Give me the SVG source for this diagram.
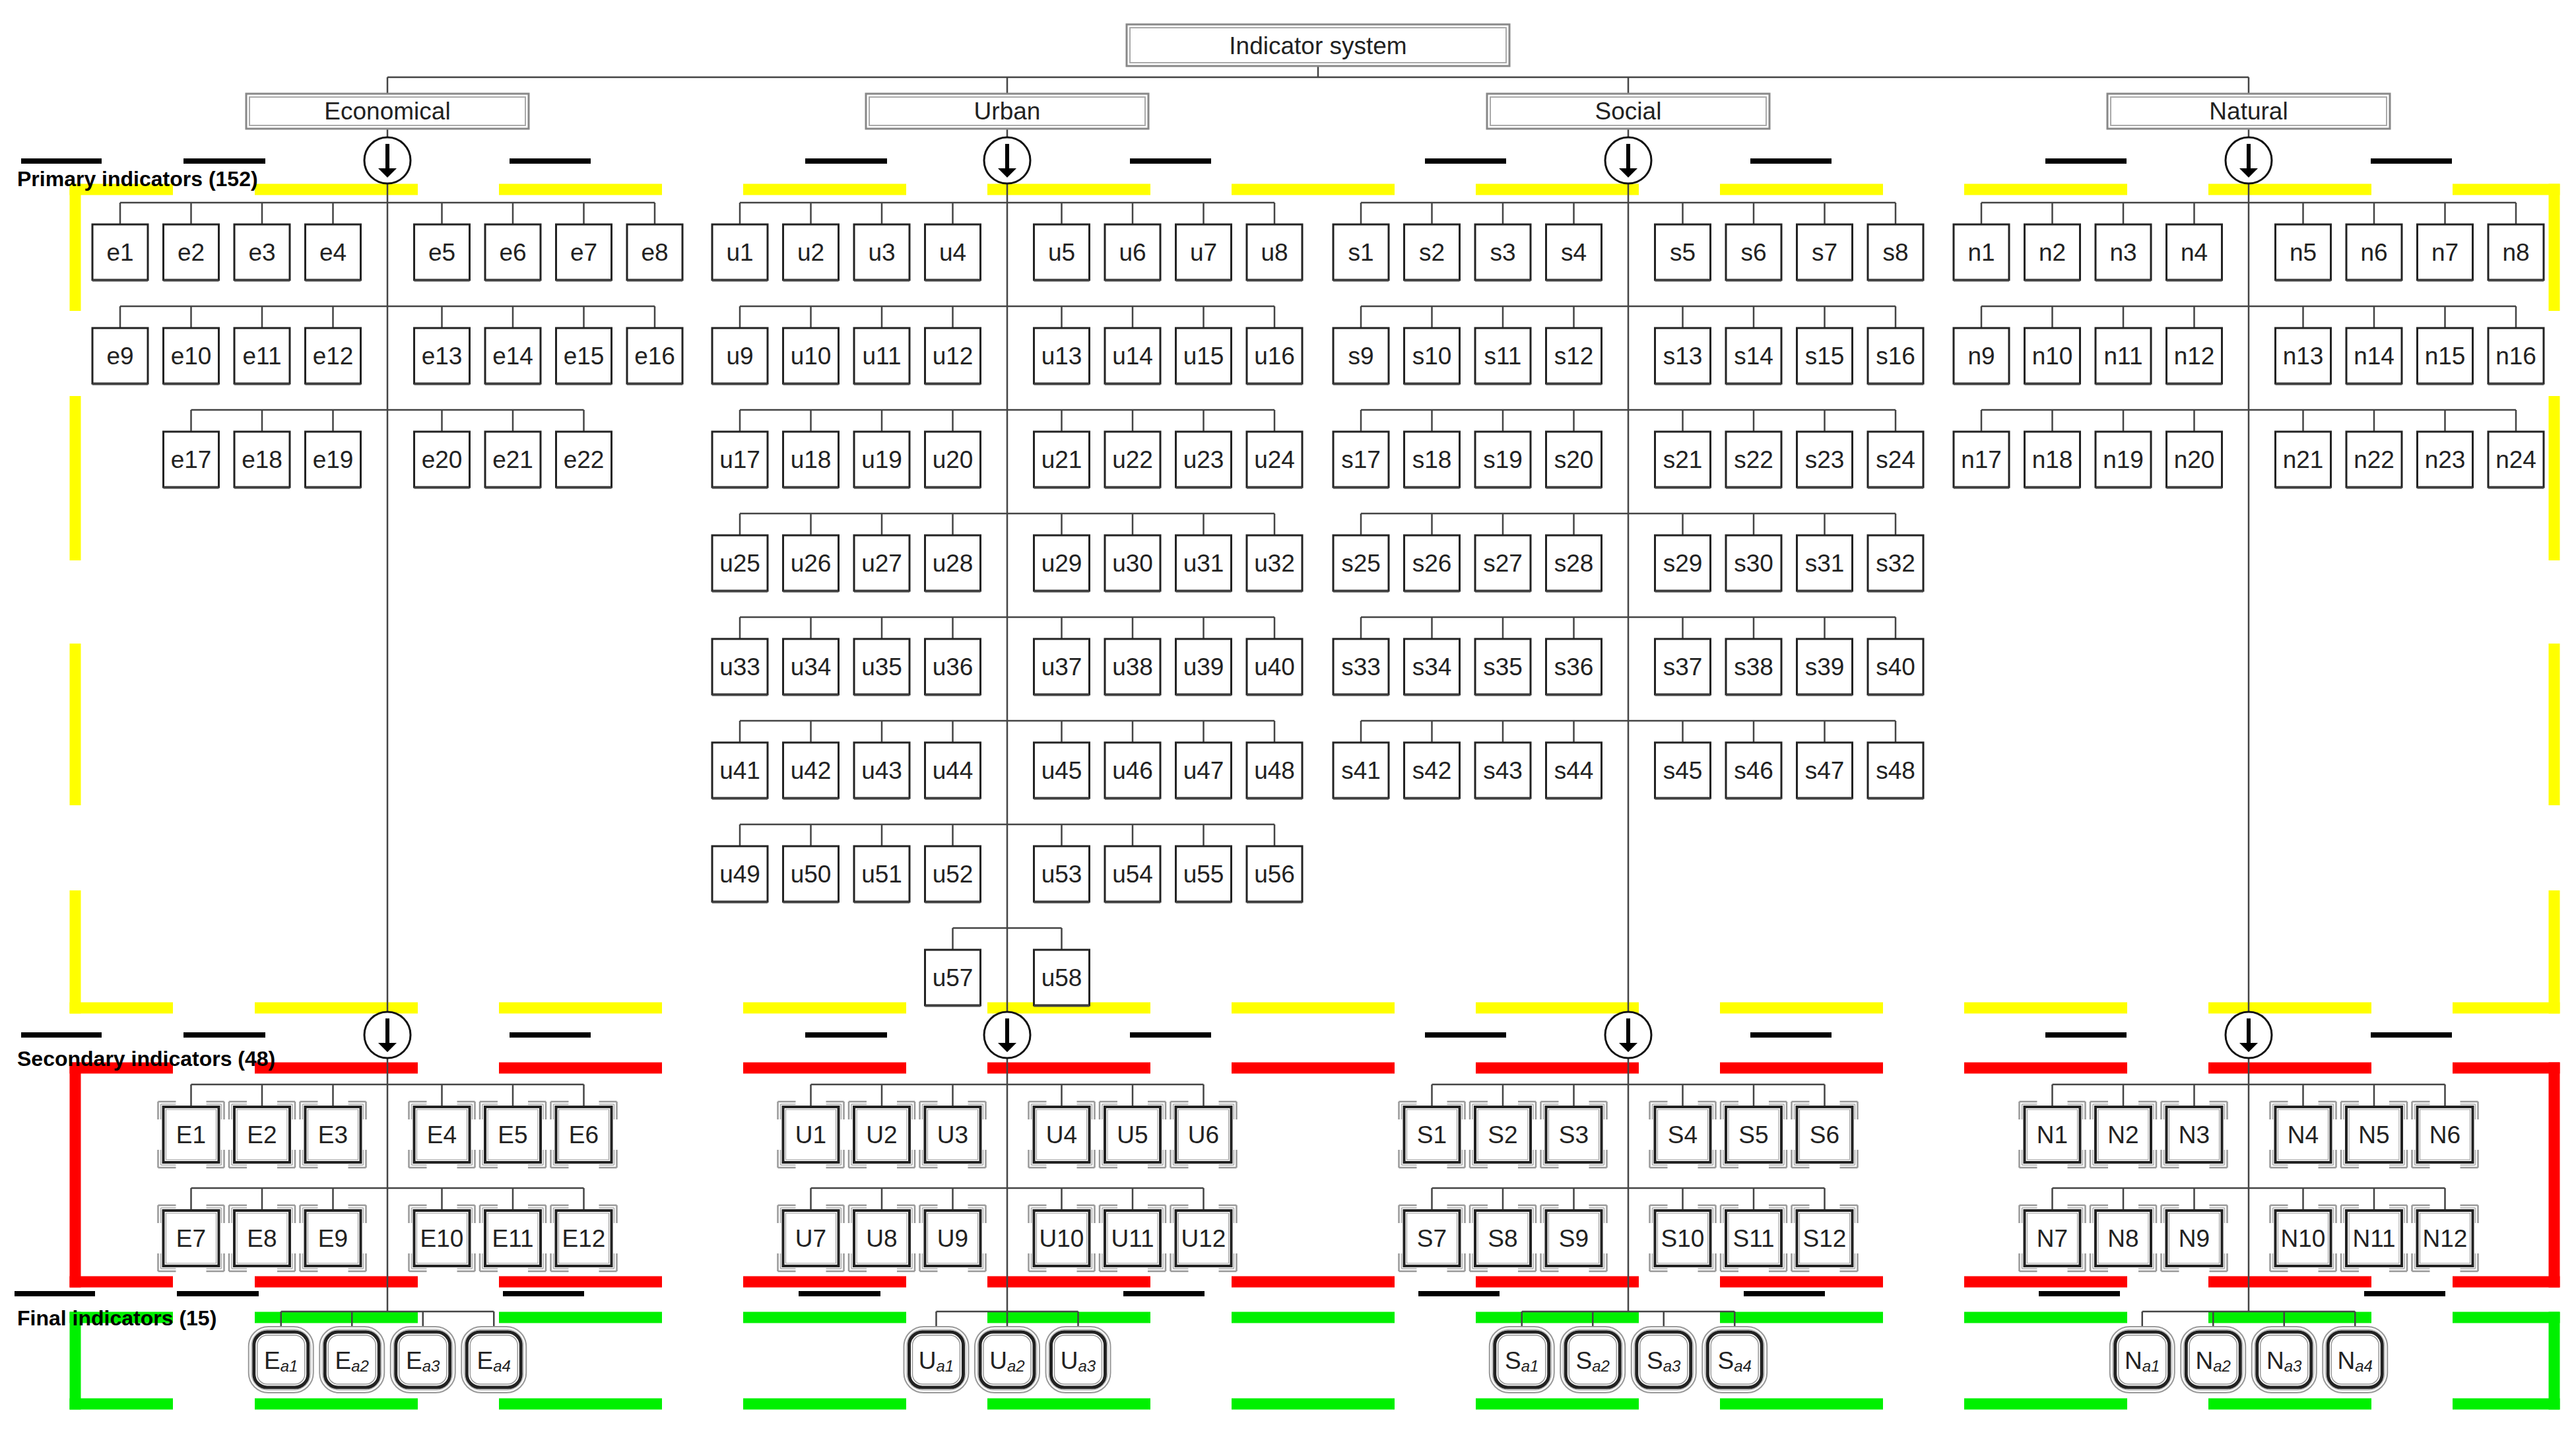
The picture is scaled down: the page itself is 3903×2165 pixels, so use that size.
<svg xmlns="http://www.w3.org/2000/svg" xmlns:xlink="http://www.w3.org/1999/xlink" width="3903" height="2165" viewBox="0 0 3903 2165">
<style>
text{font-family:"Liberation Sans",Arial,sans-serif;fill:#222}
.t{font-size:37px;text-anchor:middle}
.h{font-size:37px;text-anchor:middle}
.lab{font-size:32px;font-weight:bold;fill:#000}
.sub{font-size:24px;font-style:italic}
.con{fill:none;stroke:#444;stroke-width:2.5}
.y{fill:none;stroke:#ffff00;stroke-width:17}
.r{fill:none;stroke:#ff0000;stroke-width:17}
.g{fill:none;stroke:#00f000;stroke-width:17}
.bd{fill:none;stroke:#000;stroke-width:8}
</style>
<defs>
<g id="pb"><rect x="0" y="0" width="84" height="84" fill="#fff" stroke="#222" stroke-width="3"/><path d="M0 85H84" stroke="#444" stroke-width="3"/></g>
<g id="sb"><rect x="-8" y="-8" width="100" height="100" fill="none" stroke="#999" stroke-width="2.5" stroke-dasharray="27 46 27 0"/><rect x="-4" y="-4" width="92" height="92" fill="none" stroke="#aaa" stroke-width="1.5" stroke-dasharray="23 46 23 0"/><rect x="0" y="0" width="84" height="84" fill="#fff" stroke="#222" stroke-width="4"/><rect x="4" y="4" width="76" height="76" fill="none" stroke="#999" stroke-width="1"/></g>
<g id="fb"><rect x="0" y="0" width="98" height="100" rx="30" fill="#fff" stroke="#999" stroke-width="2"/><rect x="4" y="4" width="90" height="92" rx="26" fill="none" stroke="#bbb" stroke-width="1.5"/><rect x="8" y="8" width="82" height="84" rx="20" fill="none" stroke="#222" stroke-width="5"/><rect x="13" y="13" width="72" height="74" rx="15" fill="none" stroke="#999" stroke-width="1.5"/></g>
<g id="arc"><circle cx="0" cy="0" r="35" fill="#fff" stroke="#111" stroke-width="3"/><path d="M0 -25V14" stroke="#000" stroke-width="6"/><path d="M-14 12H14L0 26Z" fill="#000"/></g>
</defs>
<rect width="3903" height="2165" fill="#fff"/>
<g id="frames">
<path class="y" d="M105.5 287H262M386 287H633M756 287H1003M1126 287H1373M1496 287H1743M1866 287H2113M2236 287H2483M2606 287H2853M2976 287H3223M3346 287H3593M3716 287H3878.5"/>
<path class="y" d="M105.5 1527H262M386 1527H633M756 1527H1003M1126 1527H1373M1496 1527H1743M1866 1527H2113M2236 1527H2483M2606 1527H2853M2976 1527H3223M3346 1527H3593M3716 1527H3878.5"/>
<path class="y" d="M114 278.5V471M114 600V849M114 975V1220M114 1349V1535.5M3870 278.5V471M3870 600V849M3870 975V1220M3870 1349V1535.5"/>
<path class="r" d="M105.5 1618H262M386 1618H633M756 1618H1003M1126 1618H1373M1496 1618H1743M1866 1618H2113M2236 1618H2483M2606 1618H2853M2976 1618H3223M3346 1618H3593M3716 1618H3878.5"/>
<path class="r" d="M105.5 1942H262M386 1942H633M756 1942H1003M1126 1942H1373M1496 1942H1743M1866 1942H2113M2236 1942H2483M2606 1942H2853M2976 1942H3223M3346 1942H3593M3716 1942H3878.5"/>
<path class="r" d="M114 1609.5V1950.5M3870 1609.5V1950.5"/>
<path class="g" d="M105.5 1996H262M386 1996H633M756 1996H1003M1126 1996H1373M1496 1996H1743M1866 1996H2113M2236 1996H2483M2606 1996H2853M2976 1996H3223M3346 1996H3593M3716 1996H3878.5"/>
<path class="g" d="M105.5 2127H262M386 2127H633M756 2127H1003M1126 2127H1373M1496 2127H1743M1866 2127H2113M2236 2127H2483M2606 2127H2853M2976 2127H3223M3346 2127H3593M3716 2127H3878.5"/>
<path class="g" d="M114 1987.5V2135.5M3870 1987.5V2135.5"/>
<path class="bd" d="M32 244H154M278 244H402M772 244H895M1220 244H1344M1712 244H1835M2159 244H2282M2652 244H2775M3099 244H3222M3592 244H3715"/>
<path class="bd" d="M32 1568H154M278 1568H402M772 1568H895M1220 1568H1344M1712 1568H1835M2159 1568H2282M2652 1568H2775M3099 1568H3222M3592 1568H3715"/>
<path class="bd" d="M22 1960H144M268 1960H392M762 1960H885M1210 1960H1334M1702 1960H1825M2149 1960H2272M2642 1960H2765M3089 1960H3212M3582 1960H3705"/>
</g>
<g id="labels">
<text class="lab" x="26" y="282">Primary indicators (152)</text>
<text class="lab" x="26" y="1615">Secondary indicators (48)</text>
<text class="lab" x="26" y="2008">Final indicators (15)</text>
</g>
<g id="connectors">
<path class="con" d="M1997 100V117M587 117H3407M587 117V142M1526 117V142M2467 117V142M3407 117V142"/>
<path class="con" d="M587 196V208M587 278V1533M587 1603V1987M1526 196V208M1526 278V1533M1526 1603V2010M2467 196V208M2467 278V1533M2467 1603V1987M3407 196V208M3407 278V1533M3407 1603V1987"/>
<path class="con" d="M182 307H992M182 307v33M289.5 307v33M397 307v33M504.5 307v33M669.5 307v33M777 307v33M884.5 307v33M992 307v33M182 464H992M182 464v33M289.5 464v33M397 464v33M504.5 464v33M669.5 464v33M777 464v33M884.5 464v33M992 464v33M289.5 621H884.5M289.5 621v33M397 621v33M504.5 621v33M669.5 621v33M777 621v33M884.5 621v33"/>
<path class="con" d="M1121 307H1931M1121 307v33M1228.5 307v33M1336 307v33M1443.5 307v33M1608.5 307v33M1716 307v33M1823.5 307v33M1931 307v33M1121 464H1931M1121 464v33M1228.5 464v33M1336 464v33M1443.5 464v33M1608.5 464v33M1716 464v33M1823.5 464v33M1931 464v33M1121 621H1931M1121 621v33M1228.5 621v33M1336 621v33M1443.5 621v33M1608.5 621v33M1716 621v33M1823.5 621v33M1931 621v33M1121 778H1931M1121 778v33M1228.5 778v33M1336 778v33M1443.5 778v33M1608.5 778v33M1716 778v33M1823.5 778v33M1931 778v33M1121 935H1931M1121 935v33M1228.5 935v33M1336 935v33M1443.5 935v33M1608.5 935v33M1716 935v33M1823.5 935v33M1931 935v33M1121 1092H1931M1121 1092v33M1228.5 1092v33M1336 1092v33M1443.5 1092v33M1608.5 1092v33M1716 1092v33M1823.5 1092v33M1931 1092v33M1121 1249H1931M1121 1249v33M1228.5 1249v33M1336 1249v33M1443.5 1249v33M1608.5 1249v33M1716 1249v33M1823.5 1249v33M1931 1249v33M1443.5 1406H1608.5M1443.5 1406v33M1608.5 1406v33"/>
<path class="con" d="M2062 307H2872M2062 307v33M2169.5 307v33M2277 307v33M2384.5 307v33M2549.5 307v33M2657 307v33M2764.5 307v33M2872 307v33M2062 464H2872M2062 464v33M2169.5 464v33M2277 464v33M2384.5 464v33M2549.5 464v33M2657 464v33M2764.5 464v33M2872 464v33M2062 621H2872M2062 621v33M2169.5 621v33M2277 621v33M2384.5 621v33M2549.5 621v33M2657 621v33M2764.5 621v33M2872 621v33M2062 778H2872M2062 778v33M2169.5 778v33M2277 778v33M2384.5 778v33M2549.5 778v33M2657 778v33M2764.5 778v33M2872 778v33M2062 935H2872M2062 935v33M2169.5 935v33M2277 935v33M2384.5 935v33M2549.5 935v33M2657 935v33M2764.5 935v33M2872 935v33M2062 1092H2872M2062 1092v33M2169.5 1092v33M2277 1092v33M2384.5 1092v33M2549.5 1092v33M2657 1092v33M2764.5 1092v33M2872 1092v33"/>
<path class="con" d="M3002 307H3812M3002 307v33M3109.5 307v33M3217 307v33M3324.5 307v33M3489.5 307v33M3597 307v33M3704.5 307v33M3812 307v33M3002 464H3812M3002 464v33M3109.5 464v33M3217 464v33M3324.5 464v33M3489.5 464v33M3597 464v33M3704.5 464v33M3812 464v33M3002 621H3812M3002 621v33M3109.5 621v33M3217 621v33M3324.5 621v33M3489.5 621v33M3597 621v33M3704.5 621v33M3812 621v33"/>
<path class="con" d="M289.5 1643H884.5M289.5 1643v34M397 1643v34M504.5 1643v34M669.5 1643v34M777 1643v34M884.5 1643v34M289.5 1800H884.5M289.5 1800v34M397 1800v34M504.5 1800v34M669.5 1800v34M777 1800v34M884.5 1800v34"/>
<path class="con" d="M1228.5 1643H1823.5M1228.5 1643v34M1336 1643v34M1443.5 1643v34M1608.5 1643v34M1716 1643v34M1823.5 1643v34M1228.5 1800H1823.5M1228.5 1800v34M1336 1800v34M1443.5 1800v34M1608.5 1800v34M1716 1800v34M1823.5 1800v34"/>
<path class="con" d="M2169.5 1643H2764.5M2169.5 1643v34M2277 1643v34M2384.5 1643v34M2549.5 1643v34M2657 1643v34M2764.5 1643v34M2169.5 1800H2764.5M2169.5 1800v34M2277 1800v34M2384.5 1800v34M2549.5 1800v34M2657 1800v34M2764.5 1800v34"/>
<path class="con" d="M3109.5 1643H3704.5M3109.5 1643v34M3217 1643v34M3324.5 1643v34M3489.5 1643v34M3597 1643v34M3704.5 1643v34M3109.5 1800H3704.5M3109.5 1800v34M3217 1800v34M3324.5 1800v34M3489.5 1800v34M3597 1800v34M3704.5 1800v34"/>
<path class="con" d="M425.75 1987H748.25M425.75 1987v23M533.25 1987v23M640.75 1987v23M748.25 1987v23M1418.5 1987H1633.5M1418.5 1987v23M1633.5 1987v23M2305.75 1987H2628.25M2305.75 1987v23M2413.25 1987v23M2520.75 1987v23M2628.25 1987v23M3245.75 1987H3568.25M3245.75 1987v23M3353.25 1987v23M3460.75 1987v23M3568.25 1987v23"/>
<use href="#arc" x="587" y="243"/><use href="#arc" x="1526" y="243"/><use href="#arc" x="2467" y="243"/><use href="#arc" x="3407" y="243"/>
<use href="#arc" x="587" y="1568"/><use href="#arc" x="1526" y="1568"/><use href="#arc" x="2467" y="1568"/><use href="#arc" x="3407" y="1568"/>
</g>
<g id="root"><rect x="1707" y="37" width="580" height="63" fill="#fff" stroke="#888" stroke-width="3"/><rect x="1712" y="42" width="570" height="53" fill="none" stroke="#aaa" stroke-width="2"/><text class="h" x="1997" y="82">Indicator system</text></g>
<g id="Economical"><rect x="373" y="142" width="428" height="53" fill="#fff" stroke="#888" stroke-width="3"/><rect x="378" y="147" width="418" height="43" fill="none" stroke="#aaa" stroke-width="2"/><text class="h" x="587" y="181">Economical</text></g>
<g id="Urban"><rect x="1312" y="142" width="428" height="53" fill="#fff" stroke="#888" stroke-width="3"/><rect x="1317" y="147" width="418" height="43" fill="none" stroke="#aaa" stroke-width="2"/><text class="h" x="1526" y="181">Urban</text></g>
<g id="Social"><rect x="2253" y="142" width="428" height="53" fill="#fff" stroke="#888" stroke-width="3"/><rect x="2258" y="147" width="418" height="43" fill="none" stroke="#aaa" stroke-width="2"/><text class="h" x="2467" y="181">Social</text></g>
<g id="Natural"><rect x="3193" y="142" width="428" height="53" fill="#fff" stroke="#888" stroke-width="3"/><rect x="3198" y="147" width="418" height="43" fill="none" stroke="#aaa" stroke-width="2"/><text class="h" x="3407" y="181">Natural</text></g>
<g id="e1" transform="translate(140,340)"><use href="#pb"/><text class="t" x="42" y="55">e1</text></g>
<g id="e2" transform="translate(247.5,340)"><use href="#pb"/><text class="t" x="42" y="55">e2</text></g>
<g id="e3" transform="translate(355,340)"><use href="#pb"/><text class="t" x="42" y="55">e3</text></g>
<g id="e4" transform="translate(462.5,340)"><use href="#pb"/><text class="t" x="42" y="55">e4</text></g>
<g id="e5" transform="translate(627.5,340)"><use href="#pb"/><text class="t" x="42" y="55">e5</text></g>
<g id="e6" transform="translate(735,340)"><use href="#pb"/><text class="t" x="42" y="55">e6</text></g>
<g id="e7" transform="translate(842.5,340)"><use href="#pb"/><text class="t" x="42" y="55">e7</text></g>
<g id="e8" transform="translate(950,340)"><use href="#pb"/><text class="t" x="42" y="55">e8</text></g>
<g id="e9" transform="translate(140,497)"><use href="#pb"/><text class="t" x="42" y="55">e9</text></g>
<g id="e10" transform="translate(247.5,497)"><use href="#pb"/><text class="t" x="42" y="55">e10</text></g>
<g id="e11" transform="translate(355,497)"><use href="#pb"/><text class="t" x="42" y="55">e11</text></g>
<g id="e12" transform="translate(462.5,497)"><use href="#pb"/><text class="t" x="42" y="55">e12</text></g>
<g id="e13" transform="translate(627.5,497)"><use href="#pb"/><text class="t" x="42" y="55">e13</text></g>
<g id="e14" transform="translate(735,497)"><use href="#pb"/><text class="t" x="42" y="55">e14</text></g>
<g id="e15" transform="translate(842.5,497)"><use href="#pb"/><text class="t" x="42" y="55">e15</text></g>
<g id="e16" transform="translate(950,497)"><use href="#pb"/><text class="t" x="42" y="55">e16</text></g>
<g id="e17" transform="translate(247.5,654)"><use href="#pb"/><text class="t" x="42" y="55">e17</text></g>
<g id="e18" transform="translate(355,654)"><use href="#pb"/><text class="t" x="42" y="55">e18</text></g>
<g id="e19" transform="translate(462.5,654)"><use href="#pb"/><text class="t" x="42" y="55">e19</text></g>
<g id="e20" transform="translate(627.5,654)"><use href="#pb"/><text class="t" x="42" y="55">e20</text></g>
<g id="e21" transform="translate(735,654)"><use href="#pb"/><text class="t" x="42" y="55">e21</text></g>
<g id="e22" transform="translate(842.5,654)"><use href="#pb"/><text class="t" x="42" y="55">e22</text></g>
<g id="u1" transform="translate(1079,340)"><use href="#pb"/><text class="t" x="42" y="55">u1</text></g>
<g id="u2" transform="translate(1186.5,340)"><use href="#pb"/><text class="t" x="42" y="55">u2</text></g>
<g id="u3" transform="translate(1294,340)"><use href="#pb"/><text class="t" x="42" y="55">u3</text></g>
<g id="u4" transform="translate(1401.5,340)"><use href="#pb"/><text class="t" x="42" y="55">u4</text></g>
<g id="u5" transform="translate(1566.5,340)"><use href="#pb"/><text class="t" x="42" y="55">u5</text></g>
<g id="u6" transform="translate(1674,340)"><use href="#pb"/><text class="t" x="42" y="55">u6</text></g>
<g id="u7" transform="translate(1781.5,340)"><use href="#pb"/><text class="t" x="42" y="55">u7</text></g>
<g id="u8" transform="translate(1889,340)"><use href="#pb"/><text class="t" x="42" y="55">u8</text></g>
<g id="u9" transform="translate(1079,497)"><use href="#pb"/><text class="t" x="42" y="55">u9</text></g>
<g id="u10" transform="translate(1186.5,497)"><use href="#pb"/><text class="t" x="42" y="55">u10</text></g>
<g id="u11" transform="translate(1294,497)"><use href="#pb"/><text class="t" x="42" y="55">u11</text></g>
<g id="u12" transform="translate(1401.5,497)"><use href="#pb"/><text class="t" x="42" y="55">u12</text></g>
<g id="u13" transform="translate(1566.5,497)"><use href="#pb"/><text class="t" x="42" y="55">u13</text></g>
<g id="u14" transform="translate(1674,497)"><use href="#pb"/><text class="t" x="42" y="55">u14</text></g>
<g id="u15" transform="translate(1781.5,497)"><use href="#pb"/><text class="t" x="42" y="55">u15</text></g>
<g id="u16" transform="translate(1889,497)"><use href="#pb"/><text class="t" x="42" y="55">u16</text></g>
<g id="u17" transform="translate(1079,654)"><use href="#pb"/><text class="t" x="42" y="55">u17</text></g>
<g id="u18" transform="translate(1186.5,654)"><use href="#pb"/><text class="t" x="42" y="55">u18</text></g>
<g id="u19" transform="translate(1294,654)"><use href="#pb"/><text class="t" x="42" y="55">u19</text></g>
<g id="u20" transform="translate(1401.5,654)"><use href="#pb"/><text class="t" x="42" y="55">u20</text></g>
<g id="u21" transform="translate(1566.5,654)"><use href="#pb"/><text class="t" x="42" y="55">u21</text></g>
<g id="u22" transform="translate(1674,654)"><use href="#pb"/><text class="t" x="42" y="55">u22</text></g>
<g id="u23" transform="translate(1781.5,654)"><use href="#pb"/><text class="t" x="42" y="55">u23</text></g>
<g id="u24" transform="translate(1889,654)"><use href="#pb"/><text class="t" x="42" y="55">u24</text></g>
<g id="u25" transform="translate(1079,811)"><use href="#pb"/><text class="t" x="42" y="55">u25</text></g>
<g id="u26" transform="translate(1186.5,811)"><use href="#pb"/><text class="t" x="42" y="55">u26</text></g>
<g id="u27" transform="translate(1294,811)"><use href="#pb"/><text class="t" x="42" y="55">u27</text></g>
<g id="u28" transform="translate(1401.5,811)"><use href="#pb"/><text class="t" x="42" y="55">u28</text></g>
<g id="u29" transform="translate(1566.5,811)"><use href="#pb"/><text class="t" x="42" y="55">u29</text></g>
<g id="u30" transform="translate(1674,811)"><use href="#pb"/><text class="t" x="42" y="55">u30</text></g>
<g id="u31" transform="translate(1781.5,811)"><use href="#pb"/><text class="t" x="42" y="55">u31</text></g>
<g id="u32" transform="translate(1889,811)"><use href="#pb"/><text class="t" x="42" y="55">u32</text></g>
<g id="u33" transform="translate(1079,968)"><use href="#pb"/><text class="t" x="42" y="55">u33</text></g>
<g id="u34" transform="translate(1186.5,968)"><use href="#pb"/><text class="t" x="42" y="55">u34</text></g>
<g id="u35" transform="translate(1294,968)"><use href="#pb"/><text class="t" x="42" y="55">u35</text></g>
<g id="u36" transform="translate(1401.5,968)"><use href="#pb"/><text class="t" x="42" y="55">u36</text></g>
<g id="u37" transform="translate(1566.5,968)"><use href="#pb"/><text class="t" x="42" y="55">u37</text></g>
<g id="u38" transform="translate(1674,968)"><use href="#pb"/><text class="t" x="42" y="55">u38</text></g>
<g id="u39" transform="translate(1781.5,968)"><use href="#pb"/><text class="t" x="42" y="55">u39</text></g>
<g id="u40" transform="translate(1889,968)"><use href="#pb"/><text class="t" x="42" y="55">u40</text></g>
<g id="u41" transform="translate(1079,1125)"><use href="#pb"/><text class="t" x="42" y="55">u41</text></g>
<g id="u42" transform="translate(1186.5,1125)"><use href="#pb"/><text class="t" x="42" y="55">u42</text></g>
<g id="u43" transform="translate(1294,1125)"><use href="#pb"/><text class="t" x="42" y="55">u43</text></g>
<g id="u44" transform="translate(1401.5,1125)"><use href="#pb"/><text class="t" x="42" y="55">u44</text></g>
<g id="u45" transform="translate(1566.5,1125)"><use href="#pb"/><text class="t" x="42" y="55">u45</text></g>
<g id="u46" transform="translate(1674,1125)"><use href="#pb"/><text class="t" x="42" y="55">u46</text></g>
<g id="u47" transform="translate(1781.5,1125)"><use href="#pb"/><text class="t" x="42" y="55">u47</text></g>
<g id="u48" transform="translate(1889,1125)"><use href="#pb"/><text class="t" x="42" y="55">u48</text></g>
<g id="u49" transform="translate(1079,1282)"><use href="#pb"/><text class="t" x="42" y="55">u49</text></g>
<g id="u50" transform="translate(1186.5,1282)"><use href="#pb"/><text class="t" x="42" y="55">u50</text></g>
<g id="u51" transform="translate(1294,1282)"><use href="#pb"/><text class="t" x="42" y="55">u51</text></g>
<g id="u52" transform="translate(1401.5,1282)"><use href="#pb"/><text class="t" x="42" y="55">u52</text></g>
<g id="u53" transform="translate(1566.5,1282)"><use href="#pb"/><text class="t" x="42" y="55">u53</text></g>
<g id="u54" transform="translate(1674,1282)"><use href="#pb"/><text class="t" x="42" y="55">u54</text></g>
<g id="u55" transform="translate(1781.5,1282)"><use href="#pb"/><text class="t" x="42" y="55">u55</text></g>
<g id="u56" transform="translate(1889,1282)"><use href="#pb"/><text class="t" x="42" y="55">u56</text></g>
<g id="u57" transform="translate(1401.5,1439)"><use href="#pb"/><text class="t" x="42" y="55">u57</text></g>
<g id="u58" transform="translate(1566.5,1439)"><use href="#pb"/><text class="t" x="42" y="55">u58</text></g>
<g id="s1" transform="translate(2020,340)"><use href="#pb"/><text class="t" x="42" y="55">s1</text></g>
<g id="s2" transform="translate(2127.5,340)"><use href="#pb"/><text class="t" x="42" y="55">s2</text></g>
<g id="s3" transform="translate(2235,340)"><use href="#pb"/><text class="t" x="42" y="55">s3</text></g>
<g id="s4" transform="translate(2342.5,340)"><use href="#pb"/><text class="t" x="42" y="55">s4</text></g>
<g id="s5" transform="translate(2507.5,340)"><use href="#pb"/><text class="t" x="42" y="55">s5</text></g>
<g id="s6" transform="translate(2615,340)"><use href="#pb"/><text class="t" x="42" y="55">s6</text></g>
<g id="s7" transform="translate(2722.5,340)"><use href="#pb"/><text class="t" x="42" y="55">s7</text></g>
<g id="s8" transform="translate(2830,340)"><use href="#pb"/><text class="t" x="42" y="55">s8</text></g>
<g id="s9" transform="translate(2020,497)"><use href="#pb"/><text class="t" x="42" y="55">s9</text></g>
<g id="s10" transform="translate(2127.5,497)"><use href="#pb"/><text class="t" x="42" y="55">s10</text></g>
<g id="s11" transform="translate(2235,497)"><use href="#pb"/><text class="t" x="42" y="55">s11</text></g>
<g id="s12" transform="translate(2342.5,497)"><use href="#pb"/><text class="t" x="42" y="55">s12</text></g>
<g id="s13" transform="translate(2507.5,497)"><use href="#pb"/><text class="t" x="42" y="55">s13</text></g>
<g id="s14" transform="translate(2615,497)"><use href="#pb"/><text class="t" x="42" y="55">s14</text></g>
<g id="s15" transform="translate(2722.5,497)"><use href="#pb"/><text class="t" x="42" y="55">s15</text></g>
<g id="s16" transform="translate(2830,497)"><use href="#pb"/><text class="t" x="42" y="55">s16</text></g>
<g id="s17" transform="translate(2020,654)"><use href="#pb"/><text class="t" x="42" y="55">s17</text></g>
<g id="s18" transform="translate(2127.5,654)"><use href="#pb"/><text class="t" x="42" y="55">s18</text></g>
<g id="s19" transform="translate(2235,654)"><use href="#pb"/><text class="t" x="42" y="55">s19</text></g>
<g id="s20" transform="translate(2342.5,654)"><use href="#pb"/><text class="t" x="42" y="55">s20</text></g>
<g id="s21" transform="translate(2507.5,654)"><use href="#pb"/><text class="t" x="42" y="55">s21</text></g>
<g id="s22" transform="translate(2615,654)"><use href="#pb"/><text class="t" x="42" y="55">s22</text></g>
<g id="s23" transform="translate(2722.5,654)"><use href="#pb"/><text class="t" x="42" y="55">s23</text></g>
<g id="s24" transform="translate(2830,654)"><use href="#pb"/><text class="t" x="42" y="55">s24</text></g>
<g id="s25" transform="translate(2020,811)"><use href="#pb"/><text class="t" x="42" y="55">s25</text></g>
<g id="s26" transform="translate(2127.5,811)"><use href="#pb"/><text class="t" x="42" y="55">s26</text></g>
<g id="s27" transform="translate(2235,811)"><use href="#pb"/><text class="t" x="42" y="55">s27</text></g>
<g id="s28" transform="translate(2342.5,811)"><use href="#pb"/><text class="t" x="42" y="55">s28</text></g>
<g id="s29" transform="translate(2507.5,811)"><use href="#pb"/><text class="t" x="42" y="55">s29</text></g>
<g id="s30" transform="translate(2615,811)"><use href="#pb"/><text class="t" x="42" y="55">s30</text></g>
<g id="s31" transform="translate(2722.5,811)"><use href="#pb"/><text class="t" x="42" y="55">s31</text></g>
<g id="s32" transform="translate(2830,811)"><use href="#pb"/><text class="t" x="42" y="55">s32</text></g>
<g id="s33" transform="translate(2020,968)"><use href="#pb"/><text class="t" x="42" y="55">s33</text></g>
<g id="s34" transform="translate(2127.5,968)"><use href="#pb"/><text class="t" x="42" y="55">s34</text></g>
<g id="s35" transform="translate(2235,968)"><use href="#pb"/><text class="t" x="42" y="55">s35</text></g>
<g id="s36" transform="translate(2342.5,968)"><use href="#pb"/><text class="t" x="42" y="55">s36</text></g>
<g id="s37" transform="translate(2507.5,968)"><use href="#pb"/><text class="t" x="42" y="55">s37</text></g>
<g id="s38" transform="translate(2615,968)"><use href="#pb"/><text class="t" x="42" y="55">s38</text></g>
<g id="s39" transform="translate(2722.5,968)"><use href="#pb"/><text class="t" x="42" y="55">s39</text></g>
<g id="s40" transform="translate(2830,968)"><use href="#pb"/><text class="t" x="42" y="55">s40</text></g>
<g id="s41" transform="translate(2020,1125)"><use href="#pb"/><text class="t" x="42" y="55">s41</text></g>
<g id="s42" transform="translate(2127.5,1125)"><use href="#pb"/><text class="t" x="42" y="55">s42</text></g>
<g id="s43" transform="translate(2235,1125)"><use href="#pb"/><text class="t" x="42" y="55">s43</text></g>
<g id="s44" transform="translate(2342.5,1125)"><use href="#pb"/><text class="t" x="42" y="55">s44</text></g>
<g id="s45" transform="translate(2507.5,1125)"><use href="#pb"/><text class="t" x="42" y="55">s45</text></g>
<g id="s46" transform="translate(2615,1125)"><use href="#pb"/><text class="t" x="42" y="55">s46</text></g>
<g id="s47" transform="translate(2722.5,1125)"><use href="#pb"/><text class="t" x="42" y="55">s47</text></g>
<g id="s48" transform="translate(2830,1125)"><use href="#pb"/><text class="t" x="42" y="55">s48</text></g>
<g id="n1" transform="translate(2960,340)"><use href="#pb"/><text class="t" x="42" y="55">n1</text></g>
<g id="n2" transform="translate(3067.5,340)"><use href="#pb"/><text class="t" x="42" y="55">n2</text></g>
<g id="n3" transform="translate(3175,340)"><use href="#pb"/><text class="t" x="42" y="55">n3</text></g>
<g id="n4" transform="translate(3282.5,340)"><use href="#pb"/><text class="t" x="42" y="55">n4</text></g>
<g id="n5" transform="translate(3447.5,340)"><use href="#pb"/><text class="t" x="42" y="55">n5</text></g>
<g id="n6" transform="translate(3555,340)"><use href="#pb"/><text class="t" x="42" y="55">n6</text></g>
<g id="n7" transform="translate(3662.5,340)"><use href="#pb"/><text class="t" x="42" y="55">n7</text></g>
<g id="n8" transform="translate(3770,340)"><use href="#pb"/><text class="t" x="42" y="55">n8</text></g>
<g id="n9" transform="translate(2960,497)"><use href="#pb"/><text class="t" x="42" y="55">n9</text></g>
<g id="n10" transform="translate(3067.5,497)"><use href="#pb"/><text class="t" x="42" y="55">n10</text></g>
<g id="n11" transform="translate(3175,497)"><use href="#pb"/><text class="t" x="42" y="55">n11</text></g>
<g id="n12" transform="translate(3282.5,497)"><use href="#pb"/><text class="t" x="42" y="55">n12</text></g>
<g id="n13" transform="translate(3447.5,497)"><use href="#pb"/><text class="t" x="42" y="55">n13</text></g>
<g id="n14" transform="translate(3555,497)"><use href="#pb"/><text class="t" x="42" y="55">n14</text></g>
<g id="n15" transform="translate(3662.5,497)"><use href="#pb"/><text class="t" x="42" y="55">n15</text></g>
<g id="n16" transform="translate(3770,497)"><use href="#pb"/><text class="t" x="42" y="55">n16</text></g>
<g id="n17" transform="translate(2960,654)"><use href="#pb"/><text class="t" x="42" y="55">n17</text></g>
<g id="n18" transform="translate(3067.5,654)"><use href="#pb"/><text class="t" x="42" y="55">n18</text></g>
<g id="n19" transform="translate(3175,654)"><use href="#pb"/><text class="t" x="42" y="55">n19</text></g>
<g id="n20" transform="translate(3282.5,654)"><use href="#pb"/><text class="t" x="42" y="55">n20</text></g>
<g id="n21" transform="translate(3447.5,654)"><use href="#pb"/><text class="t" x="42" y="55">n21</text></g>
<g id="n22" transform="translate(3555,654)"><use href="#pb"/><text class="t" x="42" y="55">n22</text></g>
<g id="n23" transform="translate(3662.5,654)"><use href="#pb"/><text class="t" x="42" y="55">n23</text></g>
<g id="n24" transform="translate(3770,654)"><use href="#pb"/><text class="t" x="42" y="55">n24</text></g>
<g id="E1" transform="translate(247.5,1677)"><use href="#sb"/><text class="t" x="42" y="55">E1</text></g>
<g id="E2" transform="translate(355,1677)"><use href="#sb"/><text class="t" x="42" y="55">E2</text></g>
<g id="E3" transform="translate(462.5,1677)"><use href="#sb"/><text class="t" x="42" y="55">E3</text></g>
<g id="E4" transform="translate(627.5,1677)"><use href="#sb"/><text class="t" x="42" y="55">E4</text></g>
<g id="E5" transform="translate(735,1677)"><use href="#sb"/><text class="t" x="42" y="55">E5</text></g>
<g id="E6" transform="translate(842.5,1677)"><use href="#sb"/><text class="t" x="42" y="55">E6</text></g>
<g id="E7" transform="translate(247.5,1834)"><use href="#sb"/><text class="t" x="42" y="55">E7</text></g>
<g id="E8" transform="translate(355,1834)"><use href="#sb"/><text class="t" x="42" y="55">E8</text></g>
<g id="E9" transform="translate(462.5,1834)"><use href="#sb"/><text class="t" x="42" y="55">E9</text></g>
<g id="E10" transform="translate(627.5,1834)"><use href="#sb"/><text class="t" x="42" y="55">E10</text></g>
<g id="E11" transform="translate(735,1834)"><use href="#sb"/><text class="t" x="42" y="55">E11</text></g>
<g id="E12" transform="translate(842.5,1834)"><use href="#sb"/><text class="t" x="42" y="55">E12</text></g>
<g id="U1" transform="translate(1186.5,1677)"><use href="#sb"/><text class="t" x="42" y="55">U1</text></g>
<g id="U2" transform="translate(1294,1677)"><use href="#sb"/><text class="t" x="42" y="55">U2</text></g>
<g id="U3" transform="translate(1401.5,1677)"><use href="#sb"/><text class="t" x="42" y="55">U3</text></g>
<g id="U4" transform="translate(1566.5,1677)"><use href="#sb"/><text class="t" x="42" y="55">U4</text></g>
<g id="U5" transform="translate(1674,1677)"><use href="#sb"/><text class="t" x="42" y="55">U5</text></g>
<g id="U6" transform="translate(1781.5,1677)"><use href="#sb"/><text class="t" x="42" y="55">U6</text></g>
<g id="U7" transform="translate(1186.5,1834)"><use href="#sb"/><text class="t" x="42" y="55">U7</text></g>
<g id="U8" transform="translate(1294,1834)"><use href="#sb"/><text class="t" x="42" y="55">U8</text></g>
<g id="U9" transform="translate(1401.5,1834)"><use href="#sb"/><text class="t" x="42" y="55">U9</text></g>
<g id="U10" transform="translate(1566.5,1834)"><use href="#sb"/><text class="t" x="42" y="55">U10</text></g>
<g id="U11" transform="translate(1674,1834)"><use href="#sb"/><text class="t" x="42" y="55">U11</text></g>
<g id="U12" transform="translate(1781.5,1834)"><use href="#sb"/><text class="t" x="42" y="55">U12</text></g>
<g id="S1" transform="translate(2127.5,1677)"><use href="#sb"/><text class="t" x="42" y="55">S1</text></g>
<g id="S2" transform="translate(2235,1677)"><use href="#sb"/><text class="t" x="42" y="55">S2</text></g>
<g id="S3" transform="translate(2342.5,1677)"><use href="#sb"/><text class="t" x="42" y="55">S3</text></g>
<g id="S4" transform="translate(2507.5,1677)"><use href="#sb"/><text class="t" x="42" y="55">S4</text></g>
<g id="S5" transform="translate(2615,1677)"><use href="#sb"/><text class="t" x="42" y="55">S5</text></g>
<g id="S6" transform="translate(2722.5,1677)"><use href="#sb"/><text class="t" x="42" y="55">S6</text></g>
<g id="S7" transform="translate(2127.5,1834)"><use href="#sb"/><text class="t" x="42" y="55">S7</text></g>
<g id="S8" transform="translate(2235,1834)"><use href="#sb"/><text class="t" x="42" y="55">S8</text></g>
<g id="S9" transform="translate(2342.5,1834)"><use href="#sb"/><text class="t" x="42" y="55">S9</text></g>
<g id="S10" transform="translate(2507.5,1834)"><use href="#sb"/><text class="t" x="42" y="55">S10</text></g>
<g id="S11" transform="translate(2615,1834)"><use href="#sb"/><text class="t" x="42" y="55">S11</text></g>
<g id="S12" transform="translate(2722.5,1834)"><use href="#sb"/><text class="t" x="42" y="55">S12</text></g>
<g id="N1" transform="translate(3067.5,1677)"><use href="#sb"/><text class="t" x="42" y="55">N1</text></g>
<g id="N2" transform="translate(3175,1677)"><use href="#sb"/><text class="t" x="42" y="55">N2</text></g>
<g id="N3" transform="translate(3282.5,1677)"><use href="#sb"/><text class="t" x="42" y="55">N3</text></g>
<g id="N4" transform="translate(3447.5,1677)"><use href="#sb"/><text class="t" x="42" y="55">N4</text></g>
<g id="N5" transform="translate(3555,1677)"><use href="#sb"/><text class="t" x="42" y="55">N5</text></g>
<g id="N6" transform="translate(3662.5,1677)"><use href="#sb"/><text class="t" x="42" y="55">N6</text></g>
<g id="N7" transform="translate(3067.5,1834)"><use href="#sb"/><text class="t" x="42" y="55">N7</text></g>
<g id="N8" transform="translate(3175,1834)"><use href="#sb"/><text class="t" x="42" y="55">N8</text></g>
<g id="N9" transform="translate(3282.5,1834)"><use href="#sb"/><text class="t" x="42" y="55">N9</text></g>
<g id="N10" transform="translate(3447.5,1834)"><use href="#sb"/><text class="t" x="42" y="55">N10</text></g>
<g id="N11" transform="translate(3555,1834)"><use href="#sb"/><text class="t" x="42" y="55">N11</text></g>
<g id="N12" transform="translate(3662.5,1834)"><use href="#sb"/><text class="t" x="42" y="55">N12</text></g>
<g id="Ea1" transform="translate(376.75,2010)"><use href="#fb"/><text class="t" x="49" y="64">E<tspan class="sub" dy="4">a1</tspan></text></g>
<g id="Ea2" transform="translate(484.25,2010)"><use href="#fb"/><text class="t" x="49" y="64">E<tspan class="sub" dy="4">a2</tspan></text></g>
<g id="Ea3" transform="translate(591.75,2010)"><use href="#fb"/><text class="t" x="49" y="64">E<tspan class="sub" dy="4">a3</tspan></text></g>
<g id="Ea4" transform="translate(699.25,2010)"><use href="#fb"/><text class="t" x="49" y="64">E<tspan class="sub" dy="4">a4</tspan></text></g>
<g id="Ua1" transform="translate(1369.5,2010)"><use href="#fb"/><text class="t" x="49" y="64">U<tspan class="sub" dy="4">a1</tspan></text></g>
<g id="Ua2" transform="translate(1477,2010)"><use href="#fb"/><text class="t" x="49" y="64">U<tspan class="sub" dy="4">a2</tspan></text></g>
<g id="Ua3" transform="translate(1584.5,2010)"><use href="#fb"/><text class="t" x="49" y="64">U<tspan class="sub" dy="4">a3</tspan></text></g>
<g id="Sa1" transform="translate(2256.75,2010)"><use href="#fb"/><text class="t" x="49" y="64">S<tspan class="sub" dy="4">a1</tspan></text></g>
<g id="Sa2" transform="translate(2364.25,2010)"><use href="#fb"/><text class="t" x="49" y="64">S<tspan class="sub" dy="4">a2</tspan></text></g>
<g id="Sa3" transform="translate(2471.75,2010)"><use href="#fb"/><text class="t" x="49" y="64">S<tspan class="sub" dy="4">a3</tspan></text></g>
<g id="Sa4" transform="translate(2579.25,2010)"><use href="#fb"/><text class="t" x="49" y="64">S<tspan class="sub" dy="4">a4</tspan></text></g>
<g id="Na1" transform="translate(3196.75,2010)"><use href="#fb"/><text class="t" x="49" y="64">N<tspan class="sub" dy="4">a1</tspan></text></g>
<g id="Na2" transform="translate(3304.25,2010)"><use href="#fb"/><text class="t" x="49" y="64">N<tspan class="sub" dy="4">a2</tspan></text></g>
<g id="Na3" transform="translate(3411.75,2010)"><use href="#fb"/><text class="t" x="49" y="64">N<tspan class="sub" dy="4">a3</tspan></text></g>
<g id="Na4" transform="translate(3519.25,2010)"><use href="#fb"/><text class="t" x="49" y="64">N<tspan class="sub" dy="4">a4</tspan></text></g>
</svg>
